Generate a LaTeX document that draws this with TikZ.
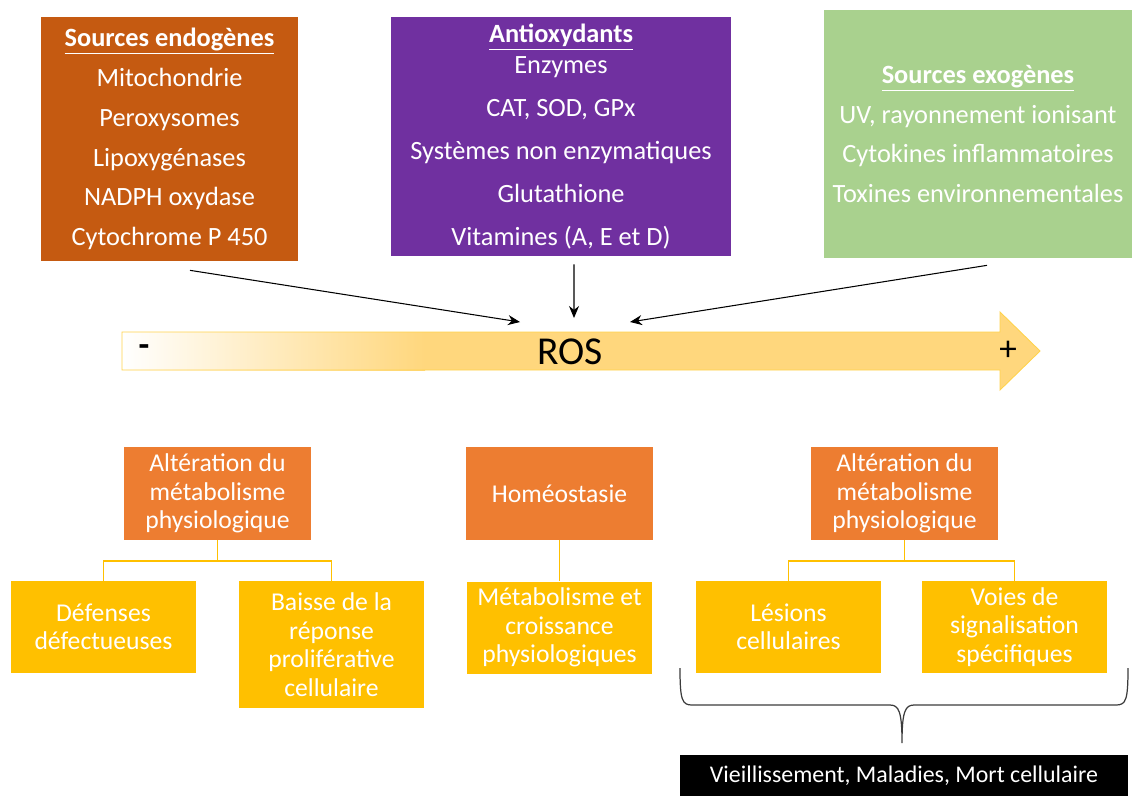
\documentclass[tikz,border=0pt]{standalone}
\usepackage{fontspec}
\setmainfont{Carlito}
\usetikzlibrary{positioning,arrows.meta,calc}
\definecolor{EndoRust}{RGB}{197,90,17}
\definecolor{AntiPurple}{RGB}{112,48,160}
\definecolor{ExoGreen}{RGB}{169,209,142}
\definecolor{AlterOrange}{RGB}{237,125,49}
\definecolor{LeafGold}{RGB}{255,192,0}
\definecolor{RosGold}{RGB}{255,215,125}
\definecolor{BraceGrey}{RGB}{60,60,60}
\tikzset{
  feed/.style={-{Stealth[length=2.4mm,width=2mm]},line width=0.6pt,draw=black},
  branch/.style={draw=LeafGold,line width=1.1pt},
  srcbox/.style={text=white,align=center,inner sep=0pt,
    font=\fontsize{15}{22.7}\selectfont},
  altbox/.style={fill=AlterOrange,text=white,align=center,inner sep=0pt,
    minimum width=3.74cm,minimum height=1.86cm,font=\fontsize{14.6}{16.2}\selectfont},
  leafbox/.style={fill=LeafGold,text=white,align=center,inner sep=0pt,
    minimum width=3.72cm,minimum height=1.84cm,font=\fontsize{14.6}{16.2}\selectfont}
}

\begin{document}
\begin{tikzpicture}[x=0.02cm,y=-0.02cm]
  \useasboundingbox (0,0) rectangle (1132,796);
  \node[srcbox,fill=EndoRust,minimum width=5.14cm,minimum height=4.88cm] (endo) at (169.5,139)
    {\underline{\textbf{Sources endogènes}}\\Mitochondrie\\Peroxysomes\\Lipoxygénases\\NADPH oxydase\\Cytochrome P 450};
  \node[srcbox,fill=AntiPurple,minimum width=6.8cm,minimum height=4.78cm,
    font=\fontsize{15}{24.4}\selectfont] (anti) at (561,136.5)
    {\underline{\textbf{Antioxydants}}\\[-0.24cm]Enzymes\\CAT, SOD, GPx\\Systèmes non enzymatiques\\Glutathione\\Vitamines (A, E et D)};
  \node[srcbox,fill=ExoGreen,minimum width=6.16cm,minimum height=4.96cm] (exo) at (978,134)
    {\underline{\textbf{Sources exogènes}}\\UV, rayonnement ionisant\\Cytokines inflammatoires\\Toxines environnementales};

  \fill[RosGold] (122,332) -- (1000,332) -- (1000,312) -- (1040,351) -- (1000,390) -- (1000,370) -- (122,370) -- cycle;
  \fill[left color=white,right color=RosGold] (122,332) rectangle (425,370);
  \draw[LeafGold!70,line width=0.5pt] (122,332) -- (1000,332) -- (1000,312) -- (1040,351) -- (1000,390) -- (1000,370) -- (122,370) -- cycle;
  \node[font=\fontsize{22.5}{22.5}\selectfont] (ros) at (570,352) {ROS};
  \node[font=\fontsize{20}{20}\selectfont\bfseries] (minus) at (144,351) {-};
  \node[font=\fontsize{20}{20}\selectfont] (plus) at (1008,351) {+};

  \coordinate (rosL) at (520,322);
  \coordinate (rosM) at (574,318);
  \coordinate (rosR) at (630,322);
  \draw[feed] ([xshift=0.41cm,yshift=-0.18cm]endo.south) -- (rosL);
  \draw[feed] ([xshift=0.26cm,yshift=-0.16cm]anti.south) -- (rosM);
  \draw[feed] ([xshift=0.18cm,yshift=-0.14cm]exo.south) -- (rosR);

  \node[altbox] (alt1) at (217.5,493.5) {Altération du\\métabolisme\\physiologique};
  \node[altbox] (homeo) at (559.5,493.5) {Homéostasie};
  \node[altbox] (alt2) at (904.5,493.5) {Altération du\\métabolisme\\physiologique};

  \node[leafbox] (def) at (103.5,627) {Défenses\\défectueuses};
  \node[leafbox,anchor=north,minimum height=2.54cm] (baisse) at (331.5,581) {Baisse de la\\réponse\\proliférative\\cellulaire};
  \node[leafbox,below=0.82cm of homeo] (metab) {Métabolisme et\\croissance\\physiologiques};
  \node[leafbox] (lesion) at (788.5,627) {Lésions\\cellulaires};
  \node[leafbox] (voies) at (1014.5,627) {Voies de\\signalisation\\spécifiques};

  \draw[branch] (alt1.south) -- ++(0,21) -| (def.north);
  \draw[branch] (alt1.south) -- ++(0,21) -| (baisse.north);
  \draw[branch] (homeo) -- (metab);
  \draw[branch] (alt2.south) -- ++(0,21) -| (lesion.north);
  \draw[branch] (alt2.south) -- ++(0,21) -| (voies.north);

  \draw[BraceGrey,line width=0.7pt] (680,668) .. controls (680,700) and (682,705) .. (692,705)
    -- (890,705) .. controls (899,705) and (902,712) .. (902,743)
    .. controls (902,712) and (905,705) .. (914,705) -- (1116,705)
    .. controls (1126,705) and (1128,700) .. (1128,668);
  \node[fill=black,text=white,minimum width=8.96cm,minimum height=0.82cm,inner sep=0pt,
    font=\fontsize{13.6}{15}\selectfont] (fate) at (904,775.5) {Vieillissement, Maladies, Mort cellulaire};
\end{tikzpicture}
\end{document}
